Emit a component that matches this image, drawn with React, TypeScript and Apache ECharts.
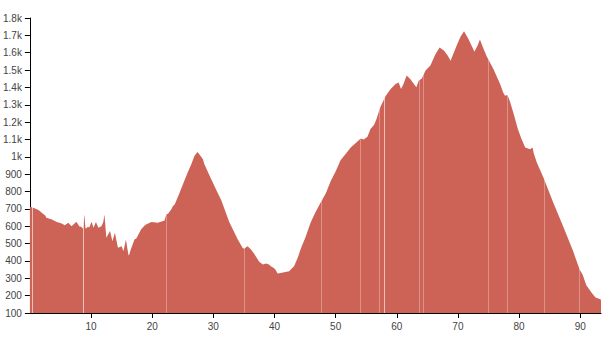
import React, { useEffect, useRef } from "react";
import * as echarts from "echarts";

const distances = [
  0.0, 0.45, 1.4, 2.5, 2.7, 3.6, 4.4, 5.2, 5.7, 6.3, 6.5, 6.8, 7.6, 8.1, 8.4, 8.7, 8.9, 9.1, 9.5, 9.7,
  10.1, 10.4, 10.8, 11.2, 11.7, 12.0, 12.2, 12.5, 13.1, 13.5, 13.9, 14.4, 15.0, 15.3, 15.7, 16.1, 16.2, 16.5, 17.1, 17.4,
  18.2, 18.8, 19.0, 19.6, 19.9, 20.9, 21.8, 22.0, 22.3, 22.6, 23.1, 23.4, 23.7, 24.5, 24.7, 25.8, 26.4, 26.9, 27.4, 27.7,
  28.3, 28.5, 29.6, 30.6, 31.3, 32.6, 34.0, 34.8, 35.0, 35.6, 36.2, 36.7, 37.5, 38.1, 38.6, 39.1, 39.4, 39.9, 40.2, 40.5,
  41.0, 41.6, 42.4, 42.9, 43.2, 43.8, 44.3, 45.1, 45.9, 46.7, 47.6, 48.4, 49.2, 50.0, 50.8, 51.6, 52.5, 53.3, 54.1, 54.6,
  55.2, 55.7, 56.3, 56.7, 57.3, 58.2, 59.0, 59.8, 60.3, 60.7, 61.1, 61.6, 62.2, 63.2, 63.6, 64.1, 64.7, 65.5, 66.3, 67.0,
  67.7, 68.3, 68.8, 69.8, 70.4, 71.0, 71.7, 72.7, 73.2, 73.6, 74.1, 74.7, 75.8, 76.9, 77.4, 77.7, 78.1, 78.5, 79.1, 79.8,
  80.4, 81.0, 81.8, 82.2, 82.4, 82.9, 84.0, 85.6, 87.2, 88.8, 89.9, 90.4, 91.0, 91.9, 92.5, 93.2, 93.4,
];
const elevations = [
  712, 708, 693, 662, 649, 639, 624, 616, 605, 620, 612, 600, 626, 598, 597, 585, 668, 586, 597, 592,
  626, 591, 624, 591, 600, 625, 668, 533, 572, 514, 562, 476, 485, 456, 524, 437, 431, 466, 524, 530,
  582, 605, 610, 620, 624, 620, 630, 632, 668, 672, 697, 716, 726, 794, 813, 909, 957, 1005, 1028, 1015,
  986, 960, 875, 800, 750, 625, 524, 475, 470, 485, 465, 440, 395, 380, 385, 379, 369, 360, 348, 327,
  330, 335, 341, 360, 369, 418, 470, 540, 620, 680, 740, 790, 860, 915, 980, 1015, 1055, 1080, 1105, 1100,
  1115, 1160, 1185, 1220, 1285, 1352, 1391, 1420, 1429, 1391, 1420, 1468, 1449, 1401, 1440, 1452, 1497, 1526, 1590, 1630,
  1612, 1585, 1554, 1641, 1690, 1724, 1680, 1606, 1640, 1676, 1630, 1580, 1506, 1420, 1370, 1352, 1356, 1320, 1250, 1160,
  1102, 1054, 1044, 1054, 1020, 967, 880, 736, 600, 460, 350, 320, 260, 215, 190, 180, 177,
];
const xTicks = [10, 20, 30, 40, 50, 60, 70, 80, 90];
const gapsFaint = [22.3, 35.1, 47.7, 54.1, 57.2, 63.6, 64.4, 74.9, 78.1, 84.1, 89.9];
const gapsBright = [0.45, 8.66, 57.9];

const FONT = "'Liberation Sans', Arial, sans-serif";

export default function App() {
  const ref = useRef<HTMLDivElement>(null);
  useEffect(() => {
    document.body.style.margin = "0";
    const chart = echarts.init(ref.current!, undefined, { renderer: "svg" });
    const data = distances.map((d, i) => [d, elevations[i]]);
    chart.setOption({
      animation: false,
      grid: { left: 28, right: 9, top: 18, bottom: 27, containLabel: false },
      xAxis: {
        type: "value",
        min: 0,
        max: 93.4,
        interval: 10,
        splitLine: { show: false },
        axisLine: { show: true, onZero: false, lineStyle: { color: "#000", width: 1 } },
        axisTick: { show: true, length: 5, lineStyle: { color: "#000" }, customValues: xTicks },
        axisLabel: { color: "#444", fontSize: 10, fontFamily: FONT, margin: 8, customValues: xTicks },
      },
      yAxis: {
        type: "value",
        min: 100,
        max: 1800,
        interval: 100,
        splitLine: { show: false },
        axisLine: { show: true, lineStyle: { color: "#000", width: 1 } },
        axisTick: { show: true, length: 5, lineStyle: { color: "#000" } },
        axisLabel: {
          color: "#444",
          fontSize: 10,
          fontFamily: FONT,
          margin: 8,
          formatter: (v: number) => (v >= 1000 ? v / 1000 + "k" : String(v)),
        },
      },
      series: [
        {
          type: "line",
          data,
          symbol: "none",
          lineStyle: { width: 0 },
          areaStyle: { color: "#cd6257", opacity: 1, origin: "start" },
          markLine: {
            silent: true,
            symbol: "none",
            label: { show: false },
            data: [
              ...gapsFaint.map((x) => ({ xAxis: x, lineStyle: { color: "rgba(255,255,255,0.3)", width: 1, type: "solid" } })),
              ...gapsBright.map((x) => ({ xAxis: x, lineStyle: { color: "rgba(255,255,255,0.6)", width: 1, type: "solid" } })),
            ],
          },
        },
      ],
    });
    return () => chart.dispose();
  }, []);
  return <div ref={ref} style={{ width: 610, height: 340 }} />;
}
